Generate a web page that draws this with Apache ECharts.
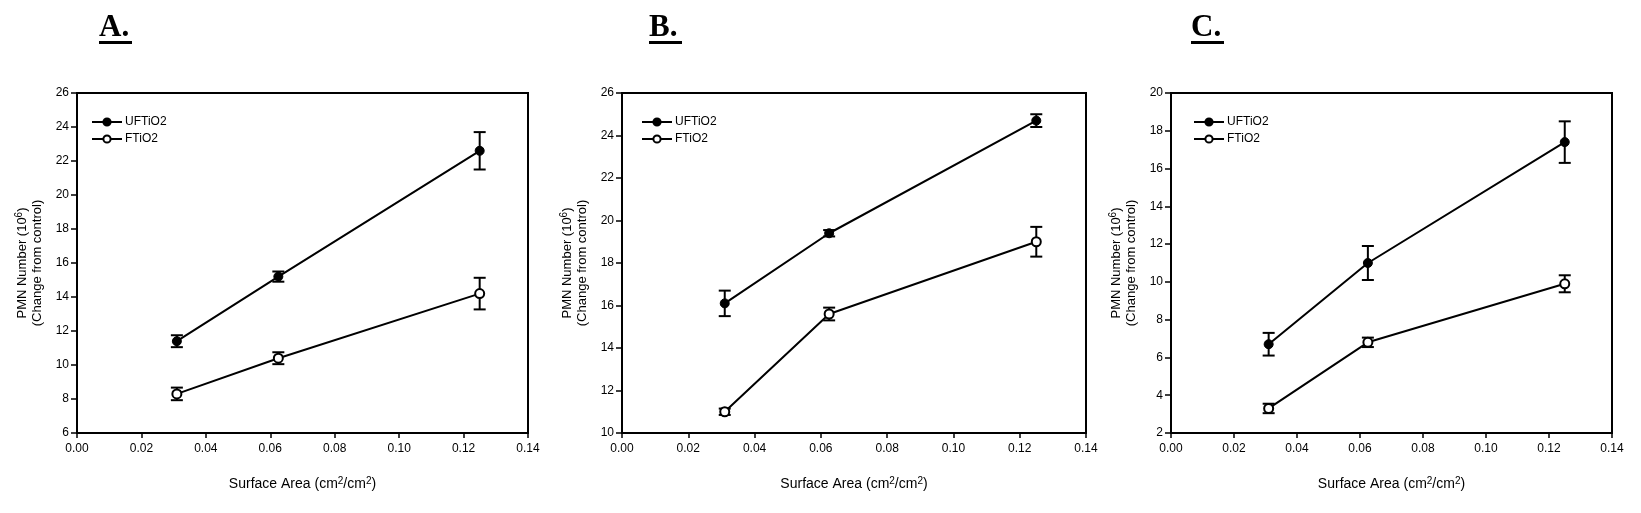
<!DOCTYPE html>
<html>
<head>
<meta charset="utf-8">
<script src="https://cdn.jsdelivr.net/npm/echarts/dist/echarts.min.js"></script>
<style>
  html, body { margin: 0; padding: 0; background: #fff; }
  #chart { width: 1641px; height: 513px; }
</style>
</head>
<body>
<div id="chart"></div>
<script>
// surface area doses (cm2/cm2)
const surfaceArea = [0.031, 0.0625, 0.125];
const xTicks = ['0.00', '0.02', '0.04', '0.06', '0.08', '0.10', '0.12', '0.14'];
const panelLetters = ['A.', 'B.', 'C.'];
const seriesNames = ['UFTiO2', 'FTiO2'];

// panel A
const ufA = [11.4, 15.2, 22.6];
const ufErrA = [0.35, 0.3, 1.1];
const fA = [8.3, 10.4, 14.2];
const fErrA = [0.37, 0.35, 0.93];
// panel B
const ufB = [16.1, 19.4, 24.7];
const ufErrB = [0.6, 0.15, 0.3];
const fB = [11.0, 15.6, 19.0];
const fErrB = [0.15, 0.3, 0.7];
// panel C
const ufC = [6.7, 11.0, 17.4];
const ufErrC = [0.6, 0.9, 1.1];
const fC = [3.3, 6.8, 9.9];
const fErrC = [0.25, 0.25, 0.45];

// y axis ranges
const yMin = [6, 10, 2];
const yMax = [26, 26, 20];

const panels = [
  { uf: ufA, ufErr: ufErrA, f: fA, fErr: fErrA },
  { uf: ufB, ufErr: ufErrB, f: fB, fErr: fErrB },
  { uf: ufC, ufErr: ufErrC, f: fC, fErr: fErrC },
];

const grids = [
  { left: 77, top: 93, width: 451, height: 340 },
  { left: 622, top: 93, width: 464, height: 340 },
  { left: 1171, top: 93, width: 441, height: 340 },
];
const letterPos = [99, 649, 1191];
const legendPos = [91, 641, 1193];

const font = 'Arial, "Liberation Sans", sans-serif';
const richY = {
  t: { fontSize: 13, color: '#000', fontFamily: font },
  sup: { fontSize: 10, color: '#000', fontFamily: font, padding: [0, 0, 7, 0] },
};
const richX = {
  t: { fontSize: 14, color: '#000', fontFamily: font },
  sup: { fontSize: 10, color: '#000', fontFamily: font, padding: [0, 0, 7, 0] },
};

const errorRender = (params, api) => {
  const x = api.value(0);
  const top = api.coord([x, api.value(2)]);
  const bot = api.coord([x, api.value(1)]);
  const w = 6;
  const st = { stroke: '#000', lineWidth: 2 };
  return {
    type: 'group',
    children: [
      { type: 'line', shape: { x1: top[0], y1: top[1], x2: bot[0], y2: bot[1] }, style: st },
      { type: 'line', shape: { x1: top[0] - w, y1: top[1], x2: top[0] + w, y2: top[1] }, style: st },
      { type: 'line', shape: { x1: bot[0] - w, y1: bot[1], x2: bot[0] + w, y2: bot[1] }, style: st },
    ],
  };
};

const xAxis = [];
const yAxis = [];
const series = [];
const legend = [];
const graphic = [];

panels.forEach((p, i) => {
  xAxis.push({
    gridIndex: i,
    type: 'value',
    min: 0,
    max: 0.14,
    interval: 0.02,
    name: '{t|Surface Area (cm}{sup|2}{t|/cm}{sup|2}{t|)}',
    nameLocation: 'middle',
    nameGap: 43,
    nameTextStyle: { rich: richX },
    axisLine: { show: true, lineStyle: { color: '#000', width: 2 } },
    axisTick: { show: true, length: 5, lineStyle: { color: '#000', width: 1.5 } },
    axisLabel: {
      color: '#000', fontSize: 12, fontFamily: font, margin: 10,
      formatter: v => xTicks[Math.round(v / 0.02)],
    },
    splitLine: { show: false },
  });
  yAxis.push({
    gridIndex: i,
    type: 'value',
    min: yMin[i],
    max: yMax[i],
    interval: 2,
    name: '{t|PMN Number (10}{sup|6}{t|)}\n{t|(Change from control)}',
    nameLocation: 'middle',
    nameRotate: 90,
    nameGap: 32,
    nameTextStyle: { rich: richY, lineHeight: 15 },
    axisLine: { show: true, lineStyle: { color: '#000', width: 2 } },
    axisTick: { show: true, length: 6, lineStyle: { color: '#000', width: 1.5 } },
    axisLabel: { color: '#000', fontSize: 12, fontFamily: font, margin: 8 },
    splitLine: { show: false },
  });

  const ufData = surfaceArea.map((x, k) => [x, p.uf[k]]);
  const fData = surfaceArea.map((x, k) => [x, p.f[k]]);
  const ufBars = surfaceArea.map((x, k) => [x, p.uf[k] - p.ufErr[k], p.uf[k] + p.ufErr[k]]);
  const fBars = surfaceArea.map((x, k) => [x, p.f[k] - p.fErr[k], p.f[k] + p.fErr[k]]);

  series.push(
    {
      type: 'custom', xAxisIndex: i, yAxisIndex: i, z: 1,
      renderItem: errorRender, data: ufBars, silent: true,
    },
    {
      type: 'custom', xAxisIndex: i, yAxisIndex: i, z: 1,
      renderItem: errorRender, data: fBars, silent: true,
    },
    {
      name: seriesNames[0], type: 'line', xAxisIndex: i, yAxisIndex: i, z: 3,
      data: ufData, symbol: 'circle', symbolSize: 9,
      lineStyle: { color: '#000', width: 2 },
      itemStyle: { color: '#000', borderColor: '#000', borderWidth: 1 },
    },
    {
      name: seriesNames[1], type: 'line', xAxisIndex: i, yAxisIndex: i, z: 3,
      data: fData, symbol: 'circle', symbolSize: 9,
      lineStyle: { color: '#000', width: 2 },
      itemStyle: { color: '#fff', borderColor: '#000', borderWidth: 2 },
    }
  );

  legend.push({
    left: legendPos[i],
    top: 116,
    orient: 'vertical',
    data: seriesNames,
    itemWidth: 30,
    itemHeight: 9,
    itemGap: 5,
    padding: 0,
    selectedMode: false,
    textStyle: { color: '#000', fontSize: 12, fontFamily: font, padding: [0, 0, 0, -2] },
  });

  graphic.push(
    {
      type: 'text', left: letterPos[i], top: 12,
      style: { text: panelLetters[i], font: 'bold 31px "Times New Roman", "Liberation Serif", serif', fill: '#000' },
    },
    {
      type: 'rect', left: letterPos[i], top: 41,
      shape: { width: 33, height: 3 }, style: { fill: '#000' },
    }
  );
});

const myChart = echarts.init(document.getElementById('chart'));
myChart.setOption({
  animation: false,
  backgroundColor: '#fff',
  grid: grids.map(g => ({ ...g, show: true, borderColor: '#000', borderWidth: 2, backgroundColor: 'transparent' })),
  xAxis,
  yAxis,
  legend,
  graphic,
  series,
});
</script>
</body>
</html>
